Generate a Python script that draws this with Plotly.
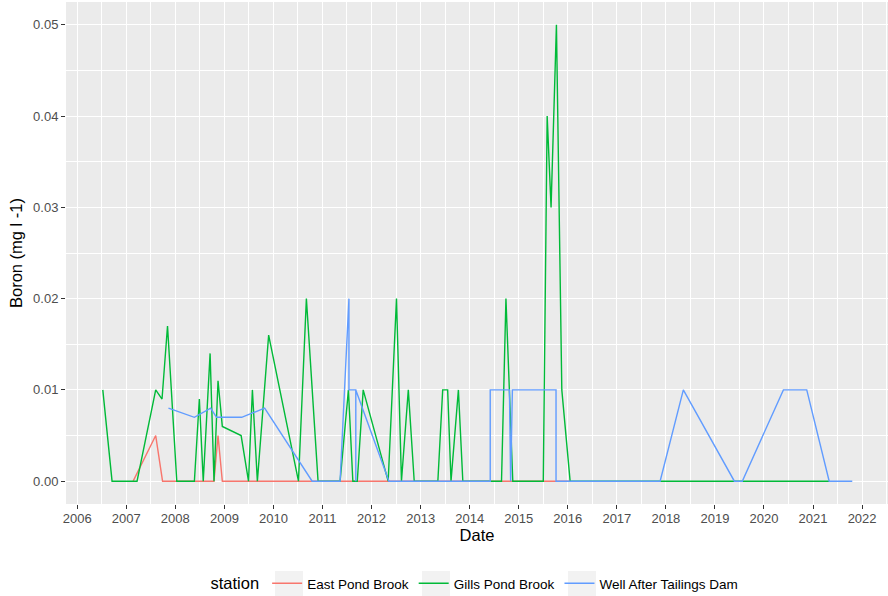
import plotly.graph_objects as go

# Boron concentration by sampling station
east_dates = ["2007-02-21", "2007-08-08", "2007-09-28", "2008-10-15", "2008-11-14",
              "2008-12-16", "2016-01-19"]
east_boron = [0.0, 0.005, 0.0, 0.0, 0.005, 0.0, 0.0]

gills_dates = ["2006-07-10", "2006-09-17", "2007-03-22", "2007-08-08", "2007-09-24",
               "2007-11-04", "2008-01-12", "2008-05-22", "2008-06-28", "2008-07-27",
               "2008-09-16", "2008-10-15", "2008-11-14", "2008-12-16", "2009-05-05",
               "2009-06-29", "2009-07-28", "2009-09-03", "2009-11-26", "2010-07-06",
               "2010-09-03", "2010-11-29", "2011-05-12", "2011-07-13", "2011-08-15",
               "2011-09-17", "2011-10-31", "2012-05-04", "2012-07-05", "2012-08-11",
               "2012-10-01", "2012-11-14", "2013-05-09", "2013-06-14", "2013-07-21",
               "2013-08-15", "2013-10-09", "2013-11-11", "2014-08-26", "2014-09-28",
               "2014-11-18", "2015-07-03", "2015-08-01", "2015-08-30", "2015-10-09",
               "2015-11-18", "2016-01-19", "2021-05-01"]
gills_boron = [0.01, 0.0, 0.0, 0.01, 0.009,
               0.017, 0.0, 0.0, 0.009, 0.0,
               0.014, 0.0, 0.011, 0.006, 0.005,
               0.0, 0.01, 0.0, 0.016, 0.0,
               0.02, 0.0, 0.0, 0.01, 0.0,
               0.0, 0.01, 0.0, 0.02, 0.0,
               0.01, 0.0, 0.0, 0.01, 0.01,
               0.0, 0.01, 0.0, 0.0, 0.02,
               0.0, 0.0, 0.04, 0.03, 0.05,
               0.01, 0.0, 0.0]

well_dates = ["2007-11-11", "2008-05-22", "2008-09-20", "2008-11-03", "2009-05-09",
              "2009-10-27", "2010-10-16", "2011-05-12", "2011-07-17", "2011-07-17",
              "2011-09-06", "2011-09-06", "2011-09-06", "2012-05-10", "2014-06-03",
              "2014-06-03", "2014-10-24", "2014-11-02", "2014-11-15", "2015-10-06",
              "2015-10-06", "2017-11-19", "2018-05-11", "2019-05-26", "2019-07-24",
              "2020-05-25", "2020-11-15", "2021-05-01", "2021-10-20"]
well_boron = [0.008, 0.007, 0.008, 0.007, 0.007,
              0.008, 0.0, 0.0, 0.02, 0.01,
              0.01, 0.0, 0.01, 0.0, 0.0,
              0.01, 0.01, 0.0, 0.01, 0.01,
              0.0, 0.0, 0.01, 0.0, 0.0,
              0.01, 0.01, 0.0, 0.0]

stations = ["East Pond Brook", "Gills Pond Brook", "Well After Tailings Dam"]
colors = ["#F8766D", "#00BA38", "#619CFF"]
series = [(east_dates, east_boron), (gills_dates, gills_boron), (well_dates, well_boron)]

year_ticks = [f"{y}-01-01" for y in range(2006, 2023)]
year_labels = [str(y) for y in range(2006, 2023)]

# plot area in pixels (used to place legend key backgrounds)
W, H = 888, 596
ML, MR, MT, MB = 66, 0, 2, 92
PW, PH = W - ML - MR, H - MT - MB


def px_x(px):
    return (px - ML) / PW


def px_y(py):
    return (H - MB - py) / PH


fig = go.Figure()
for name, color, (d, v) in zip(stations, colors, series):
    fig.add_trace(go.Scatter(x=d, y=v, mode="lines", name=name,
                             line=dict(color=color, width=1.4)))

# light grey key backgrounds behind the legend swatches
for cx in [289, 436, 582]:
    fig.add_shape(type="rect", xref="paper", yref="paper",
                  x0=px_x(cx - 14), x1=px_x(cx + 14),
                  y0=px_y(597), y1=px_y(571),
                  fillcolor="#F2F2F2", line=dict(width=0), layer="below")

font_family = "Liberation Sans, Arial, sans-serif"
fig.update_layout(
    width=W, height=H,
    margin=dict(l=ML, r=MR, t=MT, b=MB, autoexpand=False),
    paper_bgcolor="white",
    plot_bgcolor="#EBEBEB",
    font=dict(family=font_family, color="#000000"),
    showlegend=True,
    legend=dict(
        orientation="h",
        x=px_x(476), xanchor="center",
        y=px_y(584), yanchor="middle",
        title=dict(text="station", font=dict(size=16.5, color="#000000"), side="left"),
        font=dict(size=13.5, color="#000000"),
        itemwidth=30,
        bgcolor="rgba(0,0,0,0)",
    ),
    xaxis=dict(
        type="date",
        range=["2005-10-09", "2022-07-13"],
        tickmode="array", tickvals=year_ticks, ticktext=year_labels,
        ticks="outside", ticklen=4, tickcolor="#333333", tickwidth=1,
        ticklabelstandoff=-2,
        tickfont=dict(size=13, color="#4D4D4D"),
        showgrid=True, gridcolor="white", gridwidth=1.1,
        minor=dict(showgrid=True, gridcolor="white", gridwidth=0.55,
                   tickvals=[f"{y}-07-02" for y in range(2005, 2023)]),
        zeroline=False, showline=False, automargin=False,
        title=dict(text="Date", font=dict(size=16.5, color="#000000"), standoff=4),
    ),
    yaxis=dict(
        range=[-0.0025, 0.0525],
        tickmode="array", tickvals=[0, 0.01, 0.02, 0.03, 0.04, 0.05],
        ticktext=["0.00", "0.01", "0.02", "0.03", "0.04", "0.05"],
        ticks="outside", ticklen=4, tickcolor="#333333", tickwidth=1,
        tickfont=dict(size=13, color="#4D4D4D"),
        showgrid=True, gridcolor="white", gridwidth=1.1,
        minor=dict(showgrid=True, gridcolor="white", gridwidth=0.55,
                   tickvals=[0.005, 0.015, 0.025, 0.035, 0.045]),
        zeroline=False, showline=False, automargin=False,
        title=dict(text="Boron (mg l -1)", font=dict(size=16.5, color="#000000"), standoff=6),
    ),
)

fig.write_html("out.html")
